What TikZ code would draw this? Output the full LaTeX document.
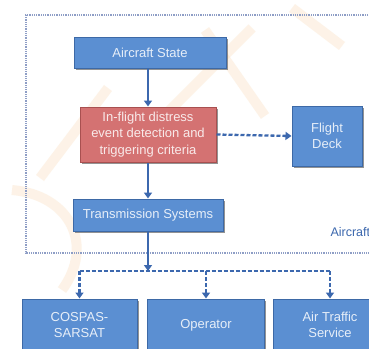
\documentclass[tikz,border=0pt]{standalone}
\usepackage{fontspec}
\setmainfont{Liberation Sans}
\usetikzlibrary{arrows.meta,shadows}
\definecolor{cajaazul}{HTML}{5B8FD2}
\definecolor{bordeazul}{HTML}{3D69A6}
\definecolor{cajaroja}{HTML}{D47272}
\definecolor{borderojo}{HTML}{A85050}
\definecolor{flecha}{HTML}{3C68AE}
\definecolor{marco}{HTML}{8E9EC6}
\definecolor{naranja}{HTML}{F3AE62}
\begin{document}
\begin{tikzpicture}[x=1pt,y=-1pt,
		caja/.style={draw=bordeazul,line width=1pt,fill=cajaazul,text=white,text opacity=.85,
			align=center,inner sep=0pt,font=\fontsize{13}{16.5}\selectfont,
			drop shadow={shadow xshift=1.5pt,shadow yshift=-1.5pt,fill=black!60,opacity=.7}},
		cajaroja/.style={caja,draw=borderojo,fill=cajaroja},
		flujo/.style={draw=flecha,line width=2.3pt,-{Triangle[length=6pt,width=8pt]}},
		flujod/.style={flujo,dash pattern=on 4pt off 2pt},
		marcoav/.style={draw=marco,line width=1.3pt,dash pattern=on 1pt off .8pt},
		agua/.style={draw=naranja,line width=10pt,opacity=.15}]
	\clip (0,0) rectangle (369,348);
	\fill[white] (0,0) rectangle (369,348);

	% Marca de agua
	\draw[agua] (292,8) -- (342,46);
	\draw[agua] (252,28) -- (150,130);
	\draw[agua] (205,30) -- (265,116);
	\draw[agua] (108,88) -- (40,178);
	\draw[agua] (12,190) .. controls (70,195) and (95,245) .. (62,290);

	% Marco del avion
	\draw[marcoav] (395,15) -- (26,15) -- (26,253) -- (395,253);
	\node[text=flecha,anchor=west,font=\fontsize{12.5}{15}\selectfont] (avion) at (327,232) {Aircraft};

	% Cajas
	\node[caja,minimum width=152pt,minimum height=31pt] (estado) at (150,52.5) {Aircraft State};
	\node[cajaroja,minimum width=136pt,minimum height=55pt] (deteccion) at (148,134.5)
		{In-flight distress\\event detection and\\triggering criteria};
	\node[caja,minimum width=70pt,minimum height=60pt] (cabina) at (327,136) {Flight\\Deck};
	\node[caja,minimum width=150pt,minimum height=32pt] (transmision) at (148,215) {Transmission Systems};

	\node[caja,minimum width=115pt,minimum height=52pt] (cospas) at (79.5,325) {COSPAS-\\SARSAT};
	\node[caja,minimum width=117pt,minimum height=52pt] (operador) at (206,325) {Operator};
	\node[caja,minimum width=114pt,minimum height=52pt] (ats) at (330,325) {Air Traffic\\Service};

	\coordinate (bus) at (148,271);

	% Flechas
	\draw[flujo] (estado.south -| deteccion) -- (deteccion.north);
	\draw[flujo] (deteccion.south) -- (transmision.north);
	\draw[flujod] (deteccion.east) -- (cabina.west);
	\draw[flujo] (transmision.south) -- (bus);
	\draw[draw=flecha,line width=2.3pt,dash pattern=on 4pt off 2pt] (cospas |- bus) -- (ats |- bus);
	\draw[flujod] (cospas |- bus) -- (cospas.north);
	\draw[flujod] (operador |- bus) -- (operador.north);
	\draw[flujod] (ats |- bus) -- (ats.north);
\end{tikzpicture}
\end{document}
